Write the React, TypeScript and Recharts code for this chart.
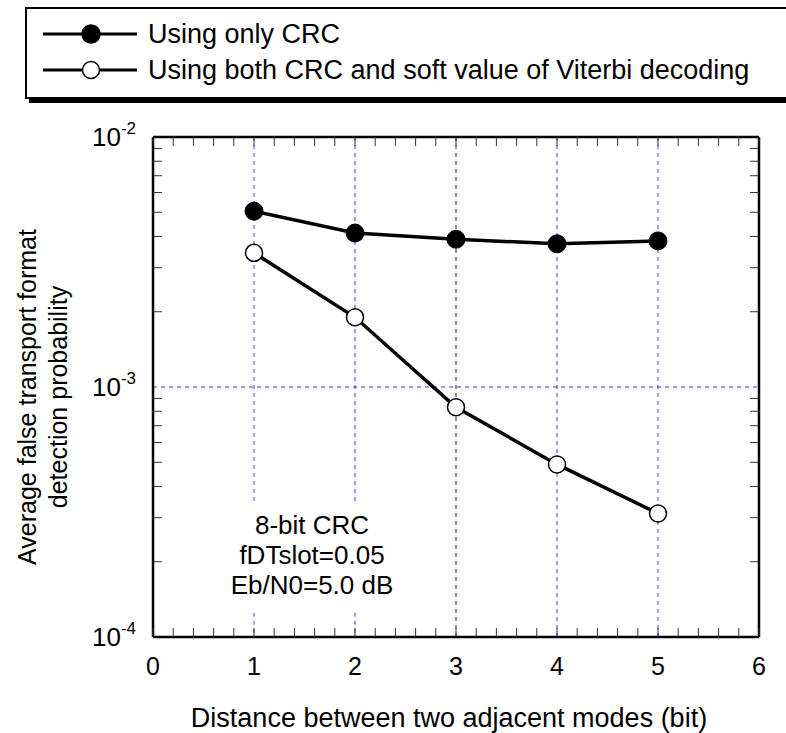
import {
  LineChart,
  Line,
  XAxis,
  YAxis,
  Legend,
  ReferenceLine,
} from "recharts";

const distances = [1, 2, 3, 4, 5];
const onlyCrc = [5.05e-3, 4.13e-3, 3.9e-3, 3.74e-3, 3.84e-3];
const crcAndSoft = [3.44e-3, 1.9e-3, 8.3e-4, 4.9e-4, 3.12e-4];

const seriesNames = [
  "Using only CRC",
  "Using both CRC and soft value of Viterbi decoding",
];

const xTickLabels = [0, 1, 2, 3, 4, 5, 6];
const xMinorTicks = [
  0, 0.2, 0.4, 0.6, 0.8, 1, 1.2, 1.4, 1.6, 1.8, 2, 2.2, 2.4, 2.6, 2.8, 3,
  3.2, 3.4, 3.6, 3.8, 4, 4.2, 4.4, 4.6, 4.8, 5, 5.2, 5.4, 5.6, 5.8, 6,
];
const yTickLabels = [1e-4, 1e-3, 1e-2];
const yMinorTicks = [
  2e-4, 3e-4, 4e-4, 5e-4, 6e-4, 7e-4, 8e-4, 9e-4, 2e-3, 3e-3, 4e-3, 5e-3,
  6e-3, 7e-3, 8e-3, 9e-3,
];
const noteLines = ["8-bit CRC", "fDTslot=0.05", "Eb/N0=5.0 dB"];

const data = distances.map((d, i) => ({
  d,
  onlyCrc: onlyCrc[i],
  both: crcAndSoft[i],
}));

const FONT = "'Liberation Sans', Arial, sans-serif";
const GRID_BLUE = "#3c3cf0";
const TICK_GRAY = "#333";
const THIN = 0.01; // axes need a non-zero size to be drawn
const PLOT_H = 500;

// x ticks: inward marks at bottom and top, label on whole numbers
function XTick(props: any) {
  const { x, y, payload } = props;
  const v = payload.value;
  const top = y - PLOT_H;
  return (
    <g>
      <line x1={x} x2={x} y1={y} y2={y - 9} stroke={TICK_GRAY} />
      <line x1={x} x2={x} y1={top} y2={top + 9} stroke={TICK_GRAY} />
      {xTickLabels.includes(v) && (
        <text x={x} y={y + 38} textAnchor="middle" fontSize={25} fontFamily={FONT} fill="#000">
          {v}
        </text>
      )}
    </g>
  );
}

function YLabel(props: any) {
  const { x, y, payload } = props;
  const exp = Math.round(Math.log10(payload.value));
  return (
    <text x={x - 17} y={y + 9} textAnchor="end" fontSize={26} fontFamily={FONT} fill="#000">
      10
      <tspan dy={-12} fontSize={17}>
        {String(exp)}
      </tspan>
    </text>
  );
}

// tick marks only, no text
function NoLabel() {
  return <g />;
}

function LegendBox() {
  return (
    <svg width={786} height={110} style={{ display: "block" }}>
      <rect x={29} y={11} width={800} height={92} fill="#000" />
      <rect x={26} y={8} width={800} height={90} fill="#fff" stroke="#000" strokeWidth={2} />
      {seriesNames.map((name, i) => {
        const cy = 34 + i * 36;
        return (
          <g key={name}>
            <line x1={43} x2={137} y1={cy} y2={cy} stroke="#000" strokeWidth={3} />
            <circle
              cx={91}
              cy={cy}
              r={i === 0 ? 9 : 8.5}
              fill={i === 0 ? "#000" : "#fff"}
              stroke="#000"
              strokeWidth={1.5}
            />
            <text
              x={148}
              y={cy}
              dominantBaseline="central"
              fontSize={27}
              fontFamily={FONT}
              fill="#000"
            >
              {name}
            </text>
          </g>
        );
      })}
    </svg>
  );
}

const minorTickProps = {
  interval: 0 as const,
  mirror: true,
  tickSize: 9,
  tick: <NoLabel />,
  tickLine: { stroke: TICK_GRAY, strokeWidth: 1 },
  allowDataOverflow: true,
};

export default function App() {
  return (
    <div style={{ position: "absolute", left: 0, top: 0 }}>
      <LineChart
        width={786}
        height={733}
        data={data}
        margin={{ top: 137, right: 27, bottom: 96, left: 153 }}
      >
        <XAxis
          xAxisId="b"
          dataKey="d"
          type="number"
          domain={[0, 6]}
          ticks={xMinorTicks}
          interval={0}
          height={THIN}
          tickSize={0}
          tickMargin={0}
          tickLine={false}
          axisLine={{ stroke: "#000", strokeWidth: 2.5 }}
          tick={<XTick />}
          allowDataOverflow
        />
        <XAxis
          xAxisId="t"
          orientation="top"
          type="number"
          domain={[0, 6]}
          ticks={xTickLabels}
          interval={0}
          height={THIN}
          tick={false}
          tickLine={false}
          axisLine={{ stroke: "#000", strokeWidth: 2.5 }}
          allowDataOverflow
        />
        <YAxis
          yAxisId="l"
          scale="log"
          type="number"
          domain={[1e-4, 1e-2]}
          ticks={yTickLabels}
          interval={0}
          width={THIN}
          tickSize={0}
          tickMargin={0}
          tickLine={false}
          axisLine={{ stroke: "#000", strokeWidth: 2.5 }}
          tick={<YLabel />}
          allowDataOverflow
        />
        <YAxis
          yAxisId="lm"
          scale="log"
          type="number"
          domain={[1e-4, 1e-2]}
          ticks={yMinorTicks}
          width={THIN}
          axisLine={false}
          {...minorTickProps}
        />
        <YAxis
          yAxisId="r"
          orientation="right"
          scale="log"
          type="number"
          domain={[1e-4, 1e-2]}
          ticks={yMinorTicks}
          width={THIN}
          axisLine={{ stroke: "#000", strokeWidth: 2.5 }}
          {...minorTickProps}
        />

        {/* grid lines, x=1 and x=2 broken by the note */}
        <ReferenceLine
          xAxisId="b"
          yAxisId="l"
          segment={[{ x: 1, y: 1e-2 }, { x: 1, y: 3.4e-4 }]}
          stroke={GRID_BLUE}
          strokeDasharray="4 4"
        />
        <ReferenceLine
          xAxisId="b"
          yAxisId="l"
          segment={[{ x: 1, y: 1.25e-4 }, { x: 1, y: 1e-4 }]}
          stroke={GRID_BLUE}
          strokeDasharray="4 4"
        />
        <ReferenceLine
          xAxisId="b"
          yAxisId="l"
          segment={[{ x: 2, y: 1e-2 }, { x: 2, y: 3.4e-4 }]}
          stroke={GRID_BLUE}
          strokeDasharray="4 4"
        />
        <ReferenceLine
          xAxisId="b"
          yAxisId="l"
          segment={[{ x: 2, y: 1.25e-4 }, { x: 2, y: 1e-4 }]}
          stroke={GRID_BLUE}
          strokeDasharray="4 4"
        />
        <ReferenceLine xAxisId="b" yAxisId="l" x={3} stroke="#1e1e60" strokeDasharray="4 4" />
        <ReferenceLine xAxisId="b" yAxisId="l" x={4} stroke={GRID_BLUE} strokeDasharray="4 4" />
        <ReferenceLine xAxisId="b" yAxisId="l" x={5} stroke={GRID_BLUE} strokeDasharray="4 4" />
        <ReferenceLine xAxisId="b" yAxisId="l" y={1e-3} stroke={GRID_BLUE} strokeDasharray="4 4" />

        <Legend
          layout="horizontal"
          verticalAlign="middle"
          align="center"
          wrapperStyle={{ position: "absolute", top: 0, left: 0, width: 786, height: 110 }}
          content={() => <LegendBox />}
        />

        <Line
          xAxisId="b"
          yAxisId="l"
          dataKey="onlyCrc"
          name={seriesNames[0]}
          stroke="#000"
          strokeWidth={3.5}
          dot={{ r: 9, fill: "#000", stroke: "#000", strokeWidth: 1 }}
          activeDot={false}
          isAnimationActive={false}
        />
        <Line
          xAxisId="b"
          yAxisId="l"
          dataKey="both"
          name={seriesNames[1]}
          stroke="#000"
          strokeWidth={3.5}
          dot={{ r: 8.5, fill: "#fff", stroke: "#000", strokeWidth: 1.5 }}
          activeDot={false}
          isAnimationActive={false}
        />

        <g fontFamily={FONT} fontSize={26} fill="#000">
          {noteLines.map((t, i) => (
            <text key={t} x={312} y={525 + i * 30} textAnchor="middle" dominantBaseline="central">
              {t}
            </text>
          ))}
          <text x={449} y={718} textAnchor="middle" dominantBaseline="central" fontSize={27}>
            Distance between two adjacent modes (bit)
          </text>
          <text
            transform="translate(27,397) rotate(-90)"
            textAnchor="middle"
            dominantBaseline="central"
            fontSize={25}
          >
            Average false transport format
          </text>
          <text
            transform="translate(58,397) rotate(-90)"
            textAnchor="middle"
            dominantBaseline="central"
            fontSize={25}
          >
            detection probability
          </text>
        </g>
      </LineChart>
    </div>
  );
}
